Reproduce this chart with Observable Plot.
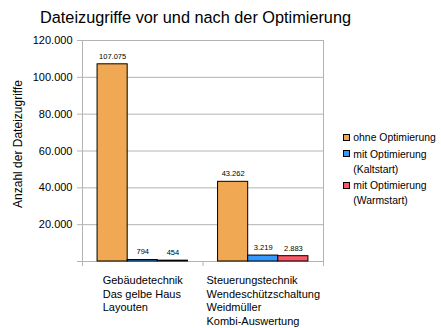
<!DOCTYPE html>
<html>
<head>
<meta charset="utf-8">
<script src="https://cdn.jsdelivr.net/npm/d3@7"></script>
<script src="https://cdn.jsdelivr.net/npm/@observablehq/plot@0.6"></script>
<style>
  body { margin: 0; background: #fff; font-family: "Liberation Sans", Arial, sans-serif; }
  #wrap { position: relative; width: 441px; height: 328px; overflow: hidden; }
  #wrap svg { position: absolute; left: 0; top: 0; }
  #title { position: absolute; left: 40px; top: 9px; font-size: 16.3px; line-height: 16px; color: #000; white-space: nowrap; }
  #legend { position: absolute; left: 343px; top: 130px; font-size: 10.4px; line-height: 15px; color: #000; }
  .item { display: flex; align-items: flex-start; margin-bottom: 1.5px; }
  .sw { box-sizing: border-box; width: 7px; height: 7px; border: 1px solid #000; margin-top: 3.5px; margin-right: 3.3px; flex: none; }
</style>
</head>
<body>
<div id="wrap">
  <div id="title"></div>
  <div id="legend"></div>
</div>
<script>
// ---- data ----
const title = "Dateizugriffe vor und nach der Optimierung";
const yLabel = "Anzahl der Dateizugriffe";
const groups = [
  ["Gebäudetechnik", "Das gelbe Haus", "Layouten"],
  ["Steuerungstechnik", "Wendeschützschaltung", "Weidmüller", "Kombi-Auswertung"]
];
const series = ["ohne Optimierung", "mit Optimierung (Kaltstart)", "mit Optimierung (Warmstart)"];
const legendLines = [["ohne Optimierung"], ["mit Optimierung", "(Kaltstart)"], ["mit Optimierung", "(Warmstart)"]];
const ohne = [107075, 43262];
const kalt = [794, 3219];
const warm = [454, 2883];
const yTicks = [0, 20000, 40000, 60000, 80000, 100000, 120000];
const colors = ["#f0a852", "#3399ff", "#ff5566"];
const gridColor = "#b3b3b3";

// ---- derived ----
const valuesBySeries = [ohne, kalt, warm];
const slot = series.length + 1; // bars per group + one gap
const rows = [];
groups.forEach((g, gi) => {
  series.forEach((s, si) => {
    rows.push({gi, si, series: s, value: valuesBySeries[si][gi],
      x1: gi * slot + 0.5 + si, x2: gi * slot + 1.5 + si});
  });
});
const boundaries = d3.range(groups.length + 1).map(i => i * slot);
const de = d3.formatLocale({decimal: ",", thousands: ".", grouping: [3], currency: ["", " €"]});
const fmt = de.format(",d");

// text measurement for centring the left-aligned category blocks
const ctx = document.createElement("canvas").getContext("2d");
ctx.font = "11px 'Liberation Sans'";
const blockW = groups.map(lines => d3.max(lines, l => ctx.measureText(l).width));

const chart = Plot.plot({
  width: 441,
  height: 328,
  marginTop: 40,
  marginLeft: 82,
  marginRight: 118,
  marginBottom: 67,
  style: {fontFamily: "'Liberation Sans', Arial, sans-serif", color: "#000", background: "transparent"},
  x: {type: "linear", domain: [0, groups.length * slot], axis: null},
  y: {domain: [yTicks[0], yTicks[yTicks.length - 1]], axis: null},
  color: {domain: series, range: colors},
  marks: [
    Plot.gridY(yTicks, {stroke: gridColor, strokeOpacity: 1, insetLeft: -5}),
    Plot.ruleX([boundaries[0], boundaries[boundaries.length - 1]], {stroke: gridColor}),
    Plot.axisX({ticks: boundaries, tickSize: 5, tickFormat: () => "", stroke: gridColor, label: null}),
    Plot.axisY({ticks: yTicks, tickSize: 0, tickPadding: 10, fontSize: 11, label: null,
      tickFormat: d => d === 0 ? "" : fmt(d)}),
    Plot.rectY(rows, {x1: "x1", x2: "x2", y: "value", fill: "series", stroke: "#000", strokeWidth: 1}),
    Plot.text(rows, {x: d => (d.x1 + d.x2) / 2, y: "value", text: d => fmt(d.value),
      lineAnchor: "bottom", dy: -5.6, fontSize: 7.5, fill: "#000"}),
    ...groups.map((lines, gi) => Plot.text([lines.join("\n")], {
      x: () => gi * slot + series.length / 2 + 0.5, frameAnchor: "bottom",
      textAnchor: "start", dx: -blockW[gi] / 2, lineAnchor: "top", dy: 12.5,
      lineHeight: 1.25, fontSize: 11, fill: "#000"})),
    Plot.text([yLabel], {frameAnchor: "left", textAnchor: "middle", lineAnchor: "middle", rotate: -90,
      dx: -64, dy: -7, fontSize: 12, fill: "#000"})
  ]
});
document.getElementById("wrap").appendChild(chart);
document.getElementById("title").textContent = title;

const legend = document.getElementById("legend");
series.forEach((s, i) => {
  const item = document.createElement("div");
  item.className = "item";
  const sw = document.createElement("div");
  sw.className = "sw";
  sw.style.background = colors[i];
  const txt = document.createElement("div");
  legendLines[i].forEach(l => { const d = document.createElement("div"); d.textContent = l; txt.appendChild(d); });
  item.appendChild(sw); item.appendChild(txt);
  legend.appendChild(item);
});
</script>
</body>
</html>
